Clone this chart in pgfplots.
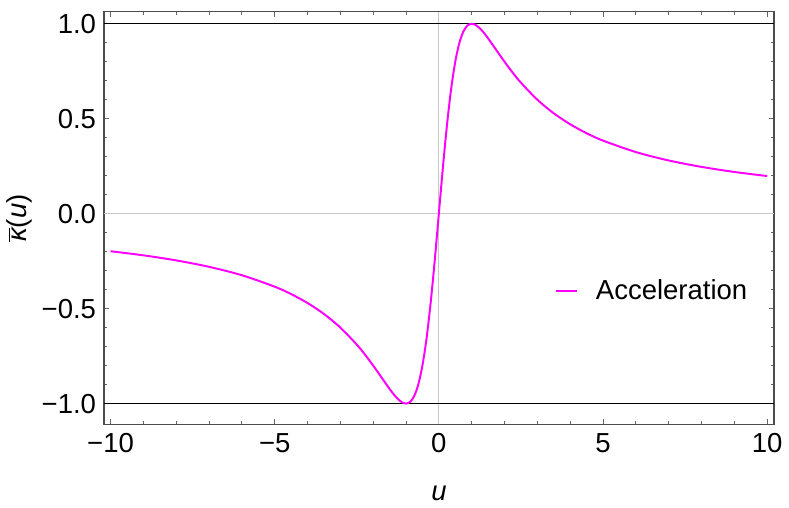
\documentclass[border=0pt]{standalone}
\usepackage{pgfplots}
\pgfplotsset{compat=1.18}
\usepackage{fontspec}
\setmainfont{Liberation Sans}
\definecolor{accmag}{RGB}{255,0,255}

\pgfplotstableread{
u k
-10 -0.1980
-9 -0.2195
-8 -0.2462
-7 -0.2800
-6 -0.3243
-5 -0.3846
-4.5 -0.4235
-4 -0.4706
-3.5 -0.5283
-3 -0.6000
-2.5 -0.6897
-2.25 -0.7423
-2 -0.8000
-1.75 -0.8615
-1.5 -0.9231
-1.375 -0.9514
-1.25 -0.9756
-1.125 -0.9931
-1 -1.0000
-0.875 -0.9912
-0.75 -0.9600
-0.625 -0.8989
-0.5 -0.8000
-0.375 -0.6575
-0.25 -0.4706
-0.125 -0.2462
0 0
0.125 0.2462
0.25 0.4706
0.375 0.6575
0.5 0.8000
0.625 0.8989
0.75 0.9600
0.875 0.9912
1 1.0000
1.125 0.9931
1.25 0.9756
1.375 0.9514
1.5 0.9231
1.75 0.8615
2 0.8000
2.25 0.7423
2.5 0.6897
3 0.6000
3.5 0.5283
4 0.4706
4.5 0.4235
5 0.3846
6 0.3243
7 0.2800
8 0.2462
9 0.2195
10 0.1980
}\accdata

\begin{document}
\begin{tikzpicture}
\begin{axis}[
  scale only axis,
  width=341pt, height=210pt,
  xmin=-10.2, xmax=10.21, ymin=-1.11, ymax=1.063,
  xtick={-10,-5,0,5,10},
  xticklabels={−10,−5,0,5,10},
  ytick={-1,-0.5,0,0.5,1},
  yticklabels={−1.0,−0.5,0.0,0.5,1.0},
  minor x tick num=4, minor y tick num=4,
  tick align=inside, tick pos=both,
  major tick length=2.6pt, minor tick length=1.5pt,
  axis line style={black!70, line width=0.6pt},
  every tick/.style={black!60, line width=0.5pt},
  tick label style={font=\fontsize{14}{16}\selectfont},
  xticklabel style={yshift=-1pt},
  yticklabel style={xshift=-0.5pt},
  label style={font=\fontsize{14}{16}\selectfont},
  xlabel={\textit{u}},
  ylabel={\mbox{$\overline{\mbox{\itshape κ}}$(\textit{u})}},
  xlabel style={yshift=-10pt},
  ylabel style={yshift=-2pt},
  legend style={draw=none, fill=none, at={(0.672,0.323)}, anchor=west,
    inner xsep=0pt, column sep=7pt, font=\fontsize{14}{16}\selectfont,
    legend cell align=left},
  legend image code/.code={\draw[accmag, line width=1pt] (0pt,0pt) -- (11pt,0pt);},
]
\draw[black!22, line width=0.6pt] (axis cs:0,-1.11) -- (axis cs:0,1.063);
\draw[black!22, line width=0.5pt] (axis cs:-10.2,0) -- (axis cs:10.21,0);
\draw[black, line width=0.6pt] (axis cs:-10.2,1) -- (axis cs:10.21,1);
\draw[black, line width=0.6pt] (axis cs:-10.2,-1) -- (axis cs:10.21,-1);
\addplot[accmag, line width=1pt, smooth, tension=0.5] table[x=u, y=k] {\accdata};
\addlegendentry{Acceleration}
\end{axis}
\path ([yshift=6pt]current axis.north);
\end{tikzpicture}
\end{document}
